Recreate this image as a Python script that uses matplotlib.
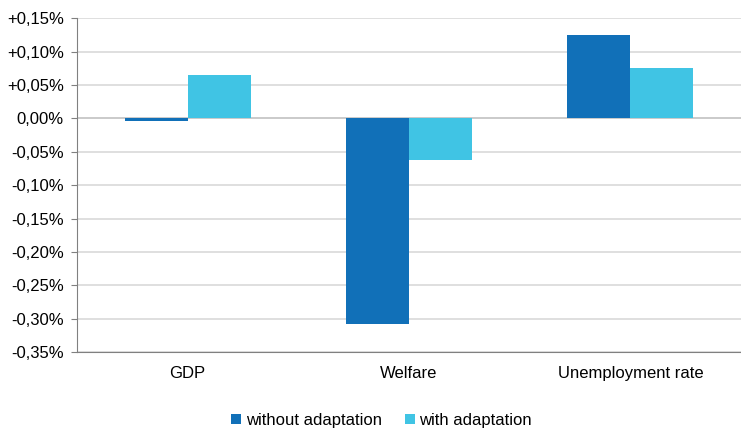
import matplotlib
matplotlib.use('Agg')
import matplotlib.pyplot as plt
import numpy as np

plt.rcParams['font.family'] = ['Liberation Sans', 'DejaVu Sans']

categories = ['GDP', 'Welfare', 'Unemployment rate']
without_adapt = [-0.004, -0.308, 0.125]
with_adapt = [0.065, -0.062, 0.075]
yticks = [0.15, 0.10, 0.05, 0.0, -0.05, -0.10, -0.15, -0.20, -0.25, -0.30, -0.35]

def fmt(v):
    s = '%.2f%%' % abs(v)
    s = s.replace('.', ',')
    if v > 0.0001:
        return '+' + s
    if v < -0.0001:
        return '-' + s
    return s

fig = plt.figure(figsize=(7.41, 4.32), dpi=100)
ax = fig.add_axes([0.1039, 0.185, 0.8961, 0.773])

x = np.arange(len(categories))
w = 0.285
ax.bar(x - w/2, without_adapt, w, color='#1170b8', label='without adaptation', zorder=3)
ax.bar(x + w/2, with_adapt, w, color='#40c4e4', label='with adaptation', zorder=3)

ax.set_xlim(-0.5, 2.5)
ax.set_ylim(-0.35, 0.15)
ax.set_yticks(yticks)
ax.set_yticklabels([fmt(v) for v in yticks], fontsize=12)
ax.set_xticks(x)
ax.set_xticklabels(categories, fontsize=12)
ax.tick_params(axis='x', length=0, pad=10)
ax.tick_params(axis='y', length=4, direction='out', color='#808080', pad=5.5)

ax.yaxis.grid(True, color='#d9d9d9', linewidth=1.2, zorder=0)
ax.axhline(0, color='#c8c8c8', linewidth=1.2, zorder=2)
for s in ['top', 'right']:
    ax.spines[s].set_visible(False)
ax.spines['left'].set_color('#808080')
ax.spines['bottom'].set_color('#808080')

fig.legend(loc='lower center', bbox_to_anchor=(0.515, -0.025), ncol=2, frameon=False,
           fontsize=12, handlelength=0.6, handleheight=0.6, columnspacing=1.4,
           handletextpad=0.25)

fig.savefig('out.png', dpi=100)
